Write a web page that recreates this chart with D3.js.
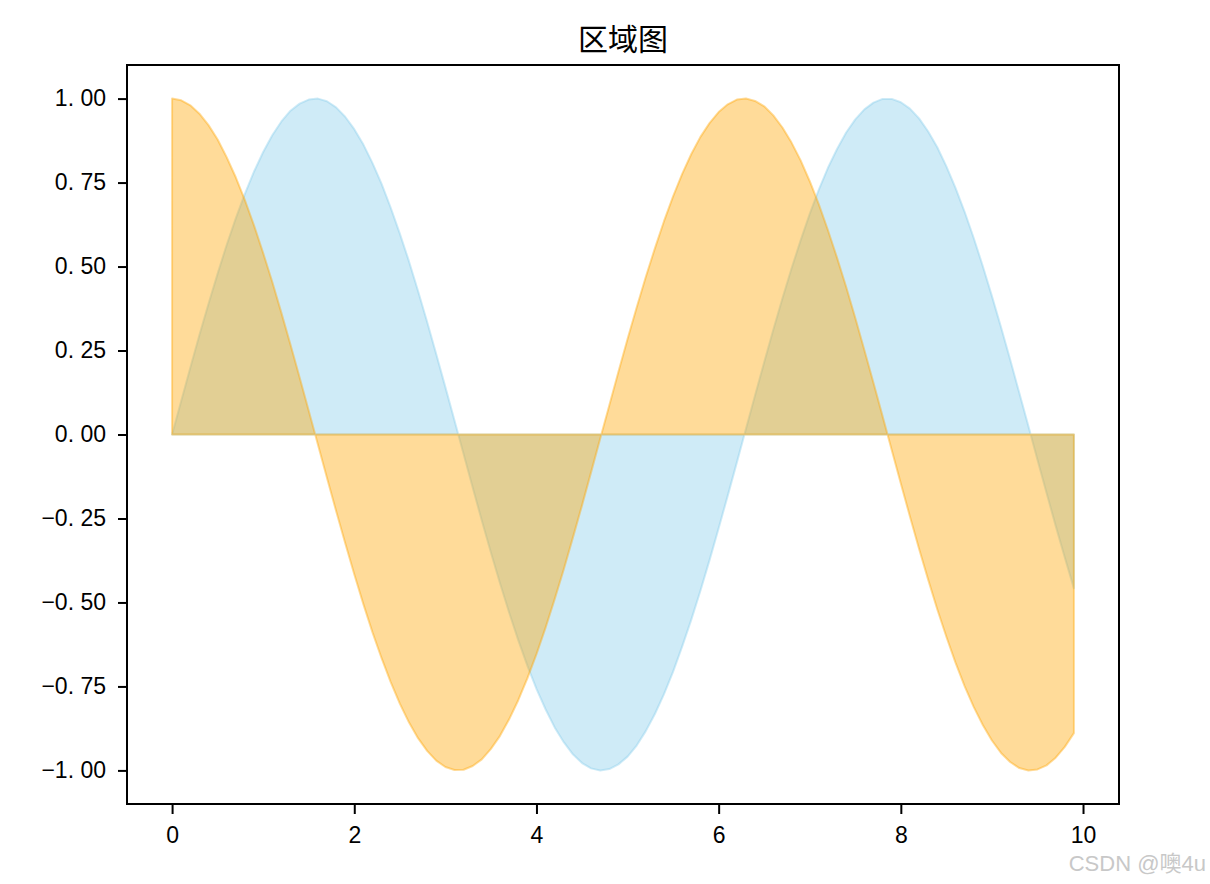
<!DOCTYPE html>
<html>
<head>
<meta charset="utf-8">
<script src="https://cdn.jsdelivr.net/npm/d3@7/dist/d3.min.js"></script>
<style>
  body { margin: 0; background: #fff; }
</style>
</head>
<body>
<div id="mainGraphic"></div>
<script>
let svgWidth = 1210
let svgHeight = 884

// x positions of the samples (0 .. 9.9)
let xValues = [
  0.0, 0.1, 0.2, 0.3, 0.4, 0.5, 0.6, 0.7, 0.8, 0.9,
  1.0, 1.1, 1.2, 1.3, 1.4, 1.5, 1.6, 1.7, 1.8, 1.9,
  2.0, 2.1, 2.2, 2.3, 2.4, 2.5, 2.6, 2.7, 2.8, 2.9,
  3.0, 3.1, 3.2, 3.3, 3.4, 3.5, 3.6, 3.7, 3.8, 3.9,
  4.0, 4.1, 4.2, 4.3, 4.4, 4.5, 4.6, 4.7, 4.8, 4.9,
  5.0, 5.1, 5.2, 5.3, 5.4, 5.5, 5.6, 5.7, 5.8, 5.9,
  6.0, 6.1, 6.2, 6.3, 6.4, 6.5, 6.6, 6.7, 6.8, 6.9,
  7.0, 7.1, 7.2, 7.3, 7.4, 7.5, 7.6, 7.7, 7.8, 7.9,
  8.0, 8.1, 8.2, 8.3, 8.4, 8.5, 8.6, 8.7, 8.8, 8.9,
  9.0, 9.1, 9.2, 9.3, 9.4, 9.5, 9.6, 9.7, 9.8, 9.9
]

// blue area
let blueValues = [
  0.000, 0.100, 0.199, 0.296, 0.389, 0.479, 0.565, 0.644, 0.717, 0.783,
  0.841, 0.891, 0.932, 0.964, 0.985, 0.997, 1.000, 0.992, 0.974, 0.946,
  0.909, 0.863, 0.808, 0.746, 0.675, 0.598, 0.516, 0.427, 0.335, 0.239,
  0.141, 0.042, -0.058, -0.158, -0.256, -0.351, -0.443, -0.530, -0.612, -0.688,
  -0.757, -0.818, -0.872, -0.916, -0.952, -0.978, -0.994, -1.000, -0.996, -0.982,
  -0.959, -0.926, -0.883, -0.832, -0.773, -0.706, -0.631, -0.551, -0.465, -0.374,
  -0.279, -0.182, -0.083, 0.017, 0.117, 0.215, 0.312, 0.405, 0.494, 0.578,
  0.657, 0.729, 0.794, 0.850, 0.899, 0.938, 0.968, 0.988, 0.999, 0.999,
  0.989, 0.970, 0.941, 0.902, 0.855, 0.798, 0.734, 0.663, 0.585, 0.501,
  0.412, 0.319, 0.223, 0.124, 0.025, -0.075, -0.174, -0.272, -0.366, -0.458
]

// orange area
let orangeValues = [
  1.000, 0.995, 0.980, 0.955, 0.921, 0.878, 0.825, 0.765, 0.697, 0.622,
  0.540, 0.454, 0.362, 0.267, 0.170, 0.071, -0.029, -0.129, -0.227, -0.323,
  -0.416, -0.505, -0.589, -0.666, -0.737, -0.801, -0.857, -0.904, -0.942, -0.971,
  -0.990, -0.999, -0.998, -0.987, -0.967, -0.936, -0.897, -0.848, -0.791, -0.726,
  -0.654, -0.575, -0.490, -0.401, -0.307, -0.211, -0.112, -0.012, 0.087, 0.187,
  0.284, 0.378, 0.469, 0.554, 0.635, 0.709, 0.776, 0.835, 0.886, 0.927,
  0.960, 0.983, 0.997, 1.000, 0.993, 0.977, 0.950, 0.914, 0.869, 0.816,
  0.754, 0.685, 0.608, 0.526, 0.439, 0.347, 0.251, 0.153, 0.054, -0.046,
  -0.146, -0.244, -0.340, -0.432, -0.520, -0.602, -0.679, -0.749, -0.811, -0.865,
  -0.911, -0.948, -0.975, -0.993, -1.000, -0.997, -0.985, -0.962, -0.930, -0.889
]

let xTicks = [0, 2, 4, 6, 8, 10]
let yTicks = [-1.00, -0.75, -0.50, -0.25, 0.00, 0.25, 0.50, 0.75, 1.00]
let chartTitle = "区域图"
let watermark = "CSDN @噢4u"

renderAreas();

function renderAreas(){
  let margin = {left: 127, right: 1119, top: 65, bottom: 804}

  let graphic = d3.select("#mainGraphic")
    .append("svg")
      .attr("width", svgWidth)
      .attr("height", svgHeight)

  let xScale = d3.scaleLinear()
    .domain([-0.495, 10.395])
    .range([margin.left, margin.right])
  let yScale = d3.scaleLinear()
    .domain([-1.1, 1.1])
    .range([margin.bottom, margin.top])

  let area = d3.area()
    .x((d, i) => xScale(xValues[i]))
    .y0(yScale(0))
    .y1(d => d)

  let series = [
    {values: blueValues, color: "#87CEEB"},
    {values: orangeValues, color: "#FFA500"}
  ]

  series.forEach(function(s){
    graphic.append("path")
      .datum(s.values.map(v => yScale(v)))
      .attr("d", area)
      .style("fill", s.color)
      .style("fill-opacity", 0.4)
      .style("stroke", s.color)
      .style("stroke-opacity", 0.4)
      .style("stroke-width", 2)
      .style("stroke-linejoin", "round")
  })

  // frame
  graphic.append("rect")
    .attr("x", margin.left)
    .attr("y", margin.top)
    .attr("width", margin.right - margin.left)
    .attr("height", margin.bottom - margin.top)
    .style("fill", "none")
    .style("stroke", "black")
    .style("stroke-width", 2)

  let xAxis = graphic.append("g")
    .attr("transform", "translate(0," + margin.bottom + ")")
    .call(d3.axisBottom(xScale).tickValues(xTicks).tickSize(10).tickPadding(13).tickFormat(d3.format("d")))
  let yAxis = graphic.append("g")
    .attr("transform", "translate(" + margin.left + ",0)")
    .call(d3.axisLeft(yScale).tickValues(yTicks).tickSize(9).tickPadding(12)
      .tickFormat(d => d3.format(".2f")(d).replace("-", "\u2212").replace(".", ". ")))

  ;[xAxis, yAxis].forEach(function(ax){
    ax.select(".domain").remove()
    ax.selectAll("line").style("stroke", "black").style("stroke-width", 2)
    ax.selectAll("text")
      .style("font-family", "'Liberation Sans', Arial, sans-serif")
      .style("font-size", "23px")
      .style("fill", "black")
      .style("white-space", "pre")
  })

  graphic.append("text")
    .attr("x", (margin.left + margin.right) / 2)
    .attr("y", 50)
    .attr("text-anchor", "middle")
    .style("font-family", "'Noto Sans CJK SC', sans-serif")
    .style("font-size", "30px")
    .text(chartTitle)

  graphic.append("text")
    .attr("x", 1206)
    .attr("y", 871)
    .attr("text-anchor", "end")
    .style("font-family", "'Liberation Sans', 'Noto Sans CJK SC', sans-serif")
    .style("font-size", "22px")
    .style("fill", "#c8c8c8")
    .text(watermark)
}
</script>
</body>
</html>
